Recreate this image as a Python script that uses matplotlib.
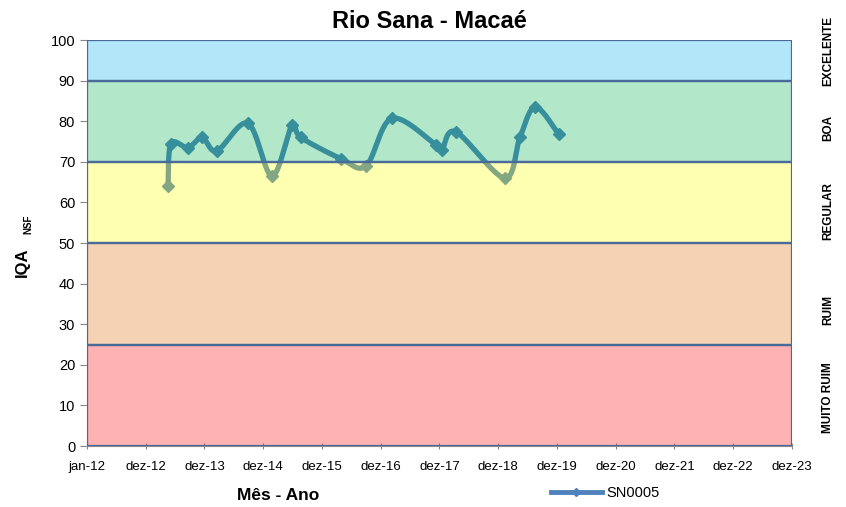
import numpy as np
import matplotlib
matplotlib.use('Agg')
import matplotlib.pyplot as plt
from matplotlib.lines import Line2D

plt.rcParams['font.family'] = ['Liberation Sans Narrow', 'Liberation Sans', 'DejaVu Sans']

# Dados (ano decimal, IQA)
anos = [2013.38, 2013.43, 2013.72, 2013.96, 2014.21, 2014.74, 2015.15, 2015.49,
        2015.64, 2016.32, 2016.75, 2017.19, 2017.94, 2018.04, 2018.28, 2019.11,
        2019.37, 2019.63, 2020.03]
iqa = [64, 74.5, 73.5, 76, 72.7, 79.5, 66.5, 79, 76, 70.8, 69, 80.7, 74.2, 72.9,
       77.4, 66, 76, 83.5, 76.8]

rotulos_x = ['jan-12', 'dez-12', 'dez-13', 'dez-14', 'dez-15', 'dez-16', 'dez-17',
             'dez-18', 'dez-19', 'dez-20', 'dez-21', 'dez-22', 'dez-23']

# Faixas de qualidade
faixas_lim = [(0, 25), (25, 50), (50, 70), (70, 90), (90, 100)]
faixas_cor = ['#FF0000', '#E46C0A', '#FFFF00', '#00B050', '#00B0F0']
faixas_nome = ['MUITO RUIM', 'RUIM', 'REGULAR', 'BOA', 'EXCELENTE']
faixas_pos = [12, 33.5, 58, 78.3, 97.3]

cor_linha = '#4F81BD'


# Suavização tipo Excel (Bezier a partir de Catmull-Rom)
def suavizar(x, y, escala_x, n=30):
    p = np.column_stack([np.asarray(x) * escala_x, np.asarray(y)])
    p = np.vstack([p[0], p, p[-1]])
    out = []
    for i in range(1, len(p) - 2):
        p0, p1, p2, p3 = p[i - 1], p[i], p[i + 1], p[i + 2]
        b1 = p1 + (p2 - p0) / 6
        b2 = p2 - (p3 - p1) / 6
        t = np.linspace(0, 1, n)[:, None]
        seg = ((1 - t) ** 3) * p1 + 3 * ((1 - t) ** 2) * t * b1 + 3 * (1 - t) * t ** 2 * b2 + t ** 3 * p2
        out.append(seg)
    out = np.vstack(out)
    return out[:, 0] / escala_x, out[:, 1]


fig = plt.figure(figsize=(8.46, 5.07), dpi=100)
ax = fig.add_axes([0.1028, 0.1203, 0.8333, 0.8007])

xs, ys = suavizar(anos, iqa, 58.75 / 4.06)
ax.plot(xs, ys, color=cor_linha, lw=3.8, zorder=2, solid_capstyle='round')
ax.plot(anos, iqa, ls='none', marker='D', ms=6, color=cor_linha, zorder=2)

for (a, b), c in zip(faixas_lim, faixas_cor):
    ax.axhspan(a, b, facecolor=c, alpha=0.3, edgecolor='none', zorder=3)
    ax.axhspan(a, b, facecolor='none', edgecolor='#4A6B9A', lw=1.6, zorder=4)

for nome, pos in zip(faixas_nome, faixas_pos):
    ax.text(1.051, pos, nome, transform=ax.get_yaxis_transform(), rotation=90,
            ha='center', va='center', fontsize=8.5, fontweight='bold')

ax.set_xlim(2012, 2024)
ax.set_ylim(0, 100)
ax.set_xticks(np.arange(2012, 2025, 1))
ax.set_xticklabels(rotulos_x, fontsize=9.5)
ax.set_yticks(np.arange(0, 101, 10))
ax.tick_params(axis='y', labelsize=10.5, length=5, color='#888888')
ax.tick_params(axis='x', length=5, direction='inout', color='#888888', pad=8)
for s in ax.spines.values():
    s.set_visible(False)
ax.spines['left'].set_visible(True)
ax.spines['left'].set_color('#888888')
ax.spines['bottom'].set_visible(True)
ax.spines['bottom'].set_color('#888888')

fig.text(0.508, 0.957, 'Rio Sana - Macaé', ha='center', va='center', fontsize=17, fontweight='bold')
fig.text(0.329, 0.022, 'Mês - Ano', ha='center', va='center', fontsize=12.5, fontweight='bold')
fig.text(0.026, 0.483, 'IQA', rotation=90, ha='center', va='center', fontsize=12, fontweight='bold')
fig.text(0.034, 0.558, 'NSF', rotation=90, ha='center', va='center', fontsize=7, fontweight='bold')

h = Line2D([], [], color=cor_linha, lw=3.5, marker='D', ms=4)
fig.legend([h], ['SN0005'], loc='center', bbox_to_anchor=(0.715, 0.028), frameon=False,
           fontsize=10.5, handlelength=3.5, handletextpad=0.3)

fig.savefig('out.png', dpi=100)
